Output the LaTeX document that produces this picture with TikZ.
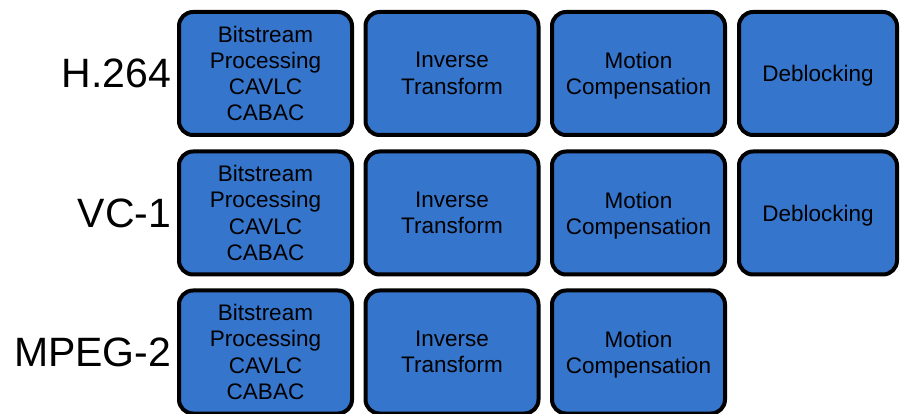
\documentclass[tikz,border=0pt]{standalone}
\usepackage{fontspec}
\setmainfont{Liberation Sans}
\usepackage{tikz}
\definecolor{stagefill}{RGB}{53,117,204}
\newcommand{\boxfont}{\fontsize{22.5}{26.3}\selectfont}
\newcommand{\labelfont}{\fontsize{41}{45}\selectfont}
\newcommand{\topstrut}{\rule{0pt}{21pt}}
\tikzset{
  stagebox/.style={draw=black, line width=4pt, fill=stagefill, rounded corners=14pt,
    minimum width=173pt, minimum height=123pt, text width=170pt, align=center,
    inner sep=0pt, font=\boxfont},
  lastbox/.style={stagebox, minimum width=158pt, text width=155pt, text depth=0pt},
  codeclabel/.style={anchor=base east, inner sep=0pt, font=\labelfont},
}

\begin{document}
\begin{tikzpicture}[x=1pt, y=-1pt]
  \useasboundingbox (0,0) rectangle (900,414);
  % one row of stages per codec
  \foreach \row/\codec/\y in {h264/H.264/73.5, vc1/VC-1/213, mpeg2/MPEG-2/352} {
    \node[codeclabel] (\row-label) at (171.5,\y+14.5) {\codec};
    \node[stagebox] (\row-bits) at (265.5,\y)
      {Bitstream\\Processing\\CAVLC\\CABAC};
    \node[stagebox] (\row-itrans) at (452,\y) {Inverse\\Transform};
    \node[stagebox] (\row-mc) at (638.5,\y) {\topstrut Motion\\Compensation};
  }
  % deblocking only for H.264 and VC-1
  \foreach \row/\y in {h264/73.5, vc1/213}
    { \node[lastbox] (\row-deblock) at (818,\y) {Deblocking}; }
\end{tikzpicture}
\end{document}
